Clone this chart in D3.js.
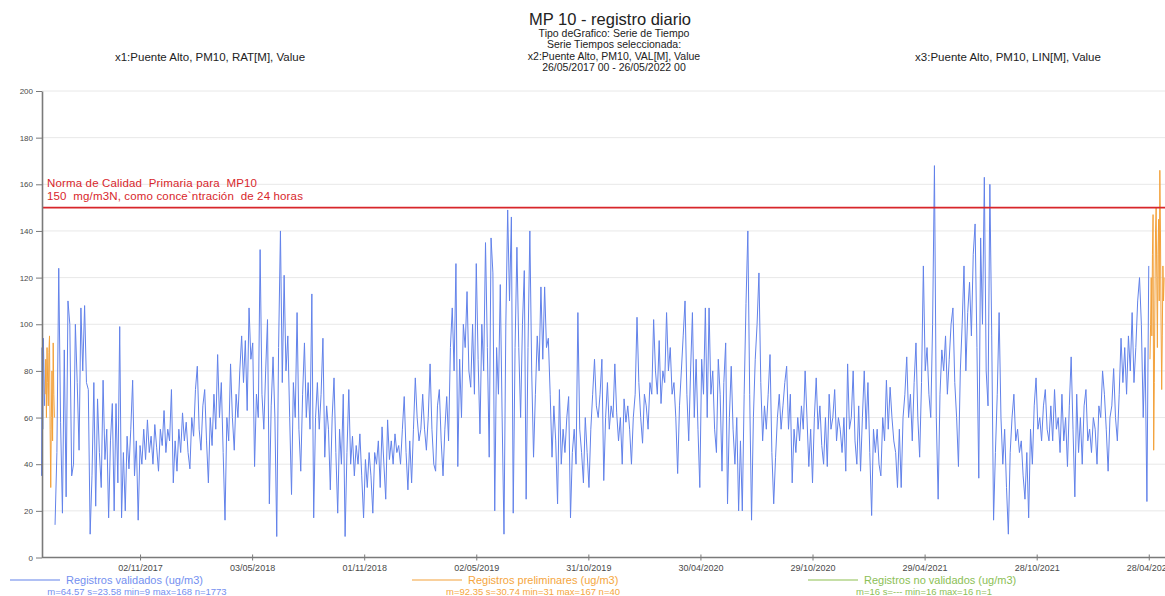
<!DOCTYPE html>
<html>
<head>
<meta charset="utf-8">
<script src="https://cdn.jsdelivr.net/npm/d3@7"></script>
<style>
  html, body { margin: 0; padding: 0; background: #fff; }
  svg { display: block; font-family: "Liberation Sans", Arial, sans-serif; }
</style>
</head>
<body>
<svg id="chart" width="1165" height="596"></svg>
<script>
// ---- Data -------------------------------------------------------------
const yTicks = [0, 20, 40, 60, 80, 100, 120, 140, 160, 180, 200];
const xTickLabels = ["02/11/2017", "03/05/2018", "01/11/2018", "02/05/2019", "31/10/2019",
                     "30/04/2020", "29/10/2020", "29/04/2021", "28/10/2021", "28/04/2022"];

const periodo = ["26/05/2017", "26/05/2022"];
const limiteNorma = 150;

// Registros validados, diarios desde 26/05/2017
const validadosInicio = [35, 90, 55, 94, 80, 65];
// Registros preliminares, diarios desde 01/06/2017
const preliminaresInicio = [70, 85, 60, 90, 75, 65, 88, 95, 55, 30, 60, 80, 50, 92, 70, 60];
// Registros validados, cada 3 dias desde 17/06/2017
const validados = [
  14, 45, 124, 58, 19, 89, 26, 110, 100, 35,
  40, 100, 75, 46, 107, 80, 108, 75, 72, 10,
  35, 75, 22, 68, 45, 30, 76, 42, 55, 17,
  50, 66, 20, 66, 32, 99, 17, 45, 20, 52,
  38, 55, 76, 35, 50, 16, 48, 40, 55, 42,
  59, 45, 52, 40, 57, 47, 37, 55, 48, 63,
  45, 55, 50, 72, 32, 50, 37, 55, 45, 62,
  50, 58, 45, 38, 60, 52, 72, 82, 55, 46,
  65, 72, 50, 32, 60, 48, 70, 55, 87, 60,
  75, 45, 16, 60, 50, 83, 60, 46, 70, 60,
  80, 95, 75, 93, 63, 107, 85, 92, 39, 70,
  60, 132, 70, 55, 80, 102, 23, 65, 86, 60,
  9, 90, 140, 75, 121, 80, 95, 60, 27, 75,
  60, 105, 55, 37, 70, 92, 60, 75, 55, 113,
  17, 60, 75, 55, 70, 94, 43, 65, 55, 29,
  60, 77, 45, 19, 55, 40, 70, 9, 45, 72,
  40, 52, 35, 48, 40, 53, 35, 17, 42, 30,
  45, 35, 19, 45, 40, 50, 30, 56, 40, 25,
  59, 42, 50, 40, 53, 45, 48, 40, 55, 69,
  45, 29, 50, 32, 55, 77, 60, 50, 55, 70,
  55, 46, 60, 83, 55, 40, 37, 65, 72, 50,
  35, 55, 69, 50, 90, 107, 80, 126, 39, 85,
  60, 100, 90, 114, 80, 73, 100, 70, 126, 85,
  53, 100, 80, 135, 90, 43, 137, 122, 20, 90,
  70, 117, 60, 10, 100, 149, 110, 146, 19, 90,
  133, 90, 60, 100, 123, 25, 90, 140, 80, 43,
  70, 95, 80, 116, 85, 116, 90, 94, 70, 43,
  65, 50, 23, 72, 40, 55, 45, 60, 69, 17,
  45, 55, 40, 105, 55, 45, 32, 60, 45, 30,
  55, 70, 85, 65, 60, 70, 85, 33, 60, 75,
  55, 65, 60, 83, 62, 50, 60, 40, 68, 58,
  65, 55, 40, 60, 70, 103, 75, 60, 49, 70,
  65, 55, 75, 70, 102, 80, 70, 93, 66, 80,
  75, 105, 80, 90, 70, 75, 60, 36, 65, 80,
  95, 110, 70, 50, 80, 105, 60, 85, 55, 30,
  85, 70, 107, 60, 107, 70, 80, 55, 45, 85,
  70, 37, 75, 92, 23, 60, 82, 55, 40, 60,
  20, 50, 20, 70, 109, 140, 70, 16, 60, 85,
  100, 122, 75, 50, 65, 55, 70, 87, 45, 23,
  43, 60, 70, 55, 65, 75, 82, 55, 70, 32,
  55, 45, 60, 50, 65, 55, 80, 60, 39, 55,
  32, 60, 77, 55, 65, 48, 40, 60, 39, 70,
  55, 60, 72, 50, 60, 55, 45, 60, 37, 83,
  55, 60, 80, 50, 40, 65, 37, 60, 80, 55,
  75, 45, 18, 55, 45, 55, 40, 35, 60, 50,
  76, 55, 73, 60, 50, 45, 30, 55, 30, 60,
  70, 86, 60, 70, 50, 75, 92, 60, 43, 75,
  125, 80, 90, 70, 60, 100, 168, 60, 25, 70,
  89, 80, 95, 70, 85, 100, 107, 75, 60, 39,
  80, 100, 125, 80, 105, 118, 95, 130, 143, 90,
  34, 137, 100, 163, 80, 65, 160, 95, 16, 45,
  70, 105, 60, 40, 55, 30, 10, 45, 60, 70,
  50, 55, 45, 50, 35, 25, 45, 17, 55, 40,
  65, 77, 55, 60, 50, 65, 72, 55, 50, 65,
  50, 72, 55, 60, 45, 70, 50, 60, 39, 65,
  86, 55, 26, 70, 45, 60, 40, 65, 72, 50,
  55, 45, 60, 55, 40, 65, 60, 80, 70, 55,
  37, 60, 65, 81, 60, 50, 70, 94, 75, 90,
  70, 95, 80, 105, 75, 90, 110, 120, 100, 60,
  90, 24, 125
];
// Registros preliminares, diarios desde 30/04/2022
const preliminaresFin = [85, 100, 120, 95, 130, 147, 46, 75, 110, 140, 150, 120,
                         90, 130, 145, 110, 166, 140, 100, 72, 95, 125, 110, 120];

const leyendaTextos = ["Registros validados (ug/m3)", "Registros preliminares (ug/m3)", "Registros no validados (ug/m3)"];
const leyendaStats = ["m=64.57 s=23.58 min=9 max=168 n=1773",
                      "m=92.35 s=30.74 min=31 max=167 n=40",
                      "m=16 s=--- min=16 max=16 n=1"];

// ---- Layout -----------------------------------------------------------
const plot = { left: 42, right: 1165, top: 91, bottom: 557.5 };
const colors = { validado: "#6282ea", preliminar: "#f3a13a", noValidado: "#8dc050",
                 norma: "#d8262b", axis: "#7a7a7a", grid: "#e8e8e8", tickText: "#4a4a4a",
                 leyValidado: "#7490f0", leyPreliminar: "#f5a640", leyNoValidado: "#8cc055" };

const svg = d3.select("#chart");
const parse = d3.utcParse("%d/%m/%Y");

const x = d3.scaleUtc()
  .domain(periodo.map(parse))
  .range([41.5, 1166]);
const y = d3.scaleLinear().domain([0, 200]).range([plot.bottom, plot.top]);

function serie(inicio, paso, valores) {
  const t0 = parse(inicio);
  return valores.map((v, i) => ({ date: d3.utcDay.offset(t0, i * paso), value: v }));
}

// Gridlines
svg.append("g")
  .selectAll("line")
  .data(yTicks.filter(d => d > 0))
  .join("line")
  .attr("x1", plot.left).attr("x2", plot.right)
  .attr("y1", d => y(d)).attr("y2", d => y(d))
  .attr("stroke", colors.grid).attr("stroke-width", 1);

// Series
const line = d3.line().x(d => x(d.date)).y(d => y(d.value));
const trazos = [
  { datos: serie("26/05/2017", 1, validadosInicio), color: colors.validado },
  { datos: serie("17/06/2017", 3, validados), color: colors.validado },
  { datos: serie("01/06/2017", 1, preliminaresInicio), color: colors.preliminar },
  { datos: serie("30/04/2022", 1, preliminaresFin), color: colors.preliminar }
];
svg.append("g")
  .selectAll("path")
  .data(trazos)
  .join("path")
  .attr("d", d => line(d.datos))
  .attr("fill", "none")
  .attr("stroke", d => d.color)
  .attr("stroke-width", 1)
  .attr("stroke-linejoin", "round");

// Air quality standard line
svg.append("line")
  .attr("x1", plot.left).attr("x2", plot.right)
  .attr("y1", y(limiteNorma)).attr("y2", y(limiteNorma))
  .attr("stroke", colors.norma).attr("stroke-width", 1.6);
const norma = svg.append("text")
  .attr("fill", colors.norma)
  .style("font-size", "11.5px")
  .style("white-space", "pre")
  .style("letter-spacing", "0.15px");
norma.append("tspan").attr("x", 47).attr("y", y(limiteNorma) - 21)
  .text("Norma de Calidad  Primaria para  MP10");
norma.append("tspan").attr("x", 47).attr("y", y(limiteNorma) - 8)
  .text("150  mg/m3N, como conce`ntración  de 24 horas");

// Y axis
const yAxis = svg.append("g")
  .attr("transform", `translate(${plot.left},0)`)
  .call(d3.axisLeft(y).tickValues(yTicks).tickSize(6).tickPadding(3).tickSizeOuter(0));
yAxis.select(".domain").attr("stroke", colors.axis).attr("stroke-width", 1.6);
yAxis.selectAll(".tick line").attr("stroke", colors.axis);
yAxis.selectAll(".tick text").attr("fill", colors.tickText)
  .style("font-size", "8px").style("font-family", "Liberation Sans, Arial, sans-serif");

// X axis
const xAxis = svg.append("g")
  .attr("transform", `translate(0,${plot.bottom})`)
  .call(d3.axisBottom(x)
    .tickValues(xTickLabels.map(parse))
    .tickFormat((d, i) => xTickLabels[i])
    .tickSize(3).tickPadding(4).tickSizeOuter(0));
xAxis.select(".domain").attr("stroke", colors.axis).attr("stroke-width", 1.6)
  .attr("d", `M${plot.left},0H${plot.right}`);
xAxis.selectAll(".tick line").attr("stroke", colors.axis).attr("y1", -3);
xAxis.selectAll(".tick text").attr("fill", colors.tickText)
  .style("font-size", "9px").style("font-family", "Liberation Sans, Arial, sans-serif");

// Titles
const cx = 610;
svg.append("text").attr("x", cx).attr("y", 25).attr("text-anchor", "middle")
  .attr("fill", "#222").style("font-size", "16.5px").text("MP 10 - registro diario");
const sub = ["Tipo deGrafico: Serie de Tiempo", "Serie Tiempos seleccionada:",
             "x2:Puente Alto, PM10, VAL[M], Value", "26/05/2017 00 - 26/05/2022 00"];
svg.append("g").selectAll("text").data(sub).join("text")
  .attr("x", cx + 4).attr("y", (d, i) => 36.5 + i * 11.5).attr("text-anchor", "middle")
  .attr("fill", "#222").style("font-size", "10.5px").text(d => d);
svg.append("text").attr("x", 210).attr("y", 61).attr("text-anchor", "middle")
  .attr("fill", "#222").style("font-size", "11.5px").text("x1:Puente Alto, PM10, RAT[M], Value");
svg.append("text").attr("x", 1008).attr("y", 61).attr("text-anchor", "middle")
  .attr("fill", "#222").style("font-size", "11.5px").text("x3:Puente Alto, PM10, LIN[M], Value");

// Legend
const legendX = [10, 412, 808];
const statsX = [137, 533, 924];
const legendLine = [colors.validado, colors.preliminar, colors.noValidado];
const legendText = [colors.leyValidado, colors.leyPreliminar, colors.leyNoValidado];
const legend = svg.append("g").selectAll("g").data(leyendaTextos).join("g");
legend.append("line")
  .attr("x1", (d, i) => legendX[i]).attr("x2", (d, i) => legendX[i] + 50)
  .attr("y1", 580).attr("y2", 580)
  .attr("stroke", (d, i) => legendLine[i]).attr("stroke-width", 1.2);
legend.append("text").attr("x", (d, i) => legendX[i] + 56).attr("y", 583.5)
  .attr("fill", (d, i) => legendText[i]).style("font-size", "11px").text(d => d);
legend.append("text").attr("x", (d, i) => statsX[i]).attr("y", 595)
  .attr("text-anchor", "middle")
  .attr("fill", (d, i) => legendText[i]).style("font-size", "9.5px")
  .text((d, i) => leyendaStats[i]);
</script>
</body>
</html>
